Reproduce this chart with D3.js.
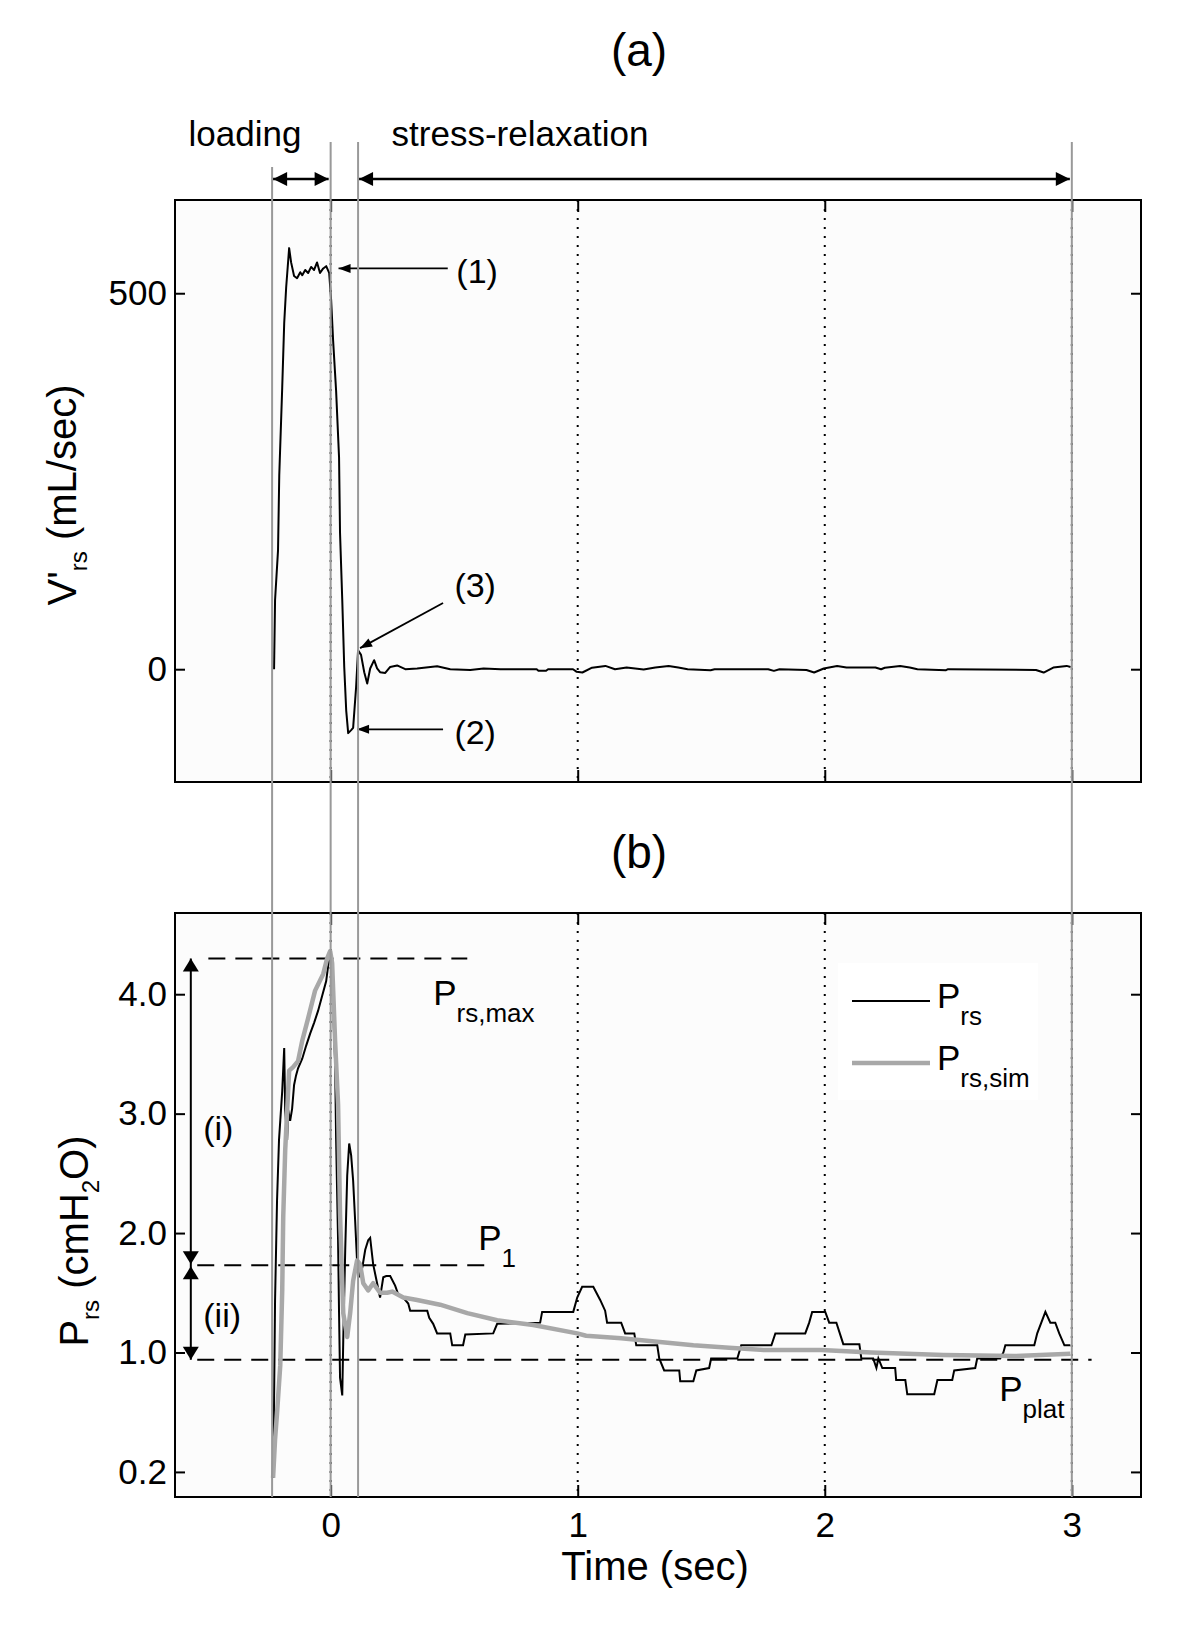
<!DOCTYPE html>
<html>
<head>
<meta charset="utf-8">
<script src="https://cdn.jsdelivr.net/npm/d3@7"></script>
<style>
  body { margin: 0; background: #fff; }
  text { font-family: "Liberation Sans", Arial, sans-serif; fill: #000; }
</style>
</head>
<body>
<div id="chart"></div>
<script>
// ---- data ----
var flowTime = [-0.229, -0.225, -0.213, -0.208, -0.196, -0.188, -0.180, -0.168, -0.160, -0.148,
  -0.136, -0.123, -0.115, -0.103, -0.091, -0.079, -0.067, -0.055, -0.043, -0.030,
  -0.018, -0.006, 0.002, 0.010, 0.022, 0.034, 0.038, 0.047, 0.055, 0.063,
  0.071, 0.083, 0.091, 0.103, 0.111, 0.123, 0.136, 0.148, 0.160, 0.176,
  0.188, 0.200, 0.221, 0.241, 0.269, 0.302, 0.350, 0.431, 0.484, 0.565,
  0.619, 0.688, 0.834, 0.841, 0.872, 0.880, 0.981, 0.996, 1.019, 1.058,
  1.112, 1.151, 1.198, 1.267, 1.314, 1.368, 1.407, 1.445, 1.538, 1.554,
  1.771, 1.794, 1.817, 1.926, 1.957, 1.996, 2.050, 2.088, 2.127, 2.205,
  2.228, 2.243, 2.305, 2.344, 2.375, 2.491, 2.499, 2.855, 2.886, 2.925,
  2.979, 2.995];
var flowValue = [0, 92, 158, 258, 375, 460, 508, 560, 541, 523,
  520, 528, 524, 531, 527, 535, 531, 541, 527, 533,
  536, 527, 491, 437, 371, 282, 181, 92, 3, -55,
  -85, -81, -78, -24, 25, 19, -4, -19, 1, 12,
  1, -4, -5, 3, 5, 0, 1, 4, 0, -1,
  1, 0, 0, -2, -2, 0, 0, -3.5, -4.4, 2,
  4.4, 0, 2.2, -0.5, 2.2, 4.4, 2.2, 0, -1.3, 0,
  0, -2.2, 0, -1, -4.4, 1, 4.4, 2.2, 2.2, 2.2,
  0, 2, 4.4, 2.2, 0, -1.3, 0, -1, -4.4, 2.2,
  4.4, 3];

var presTime = [-0.233, -0.229, -0.225, -0.217, -0.209, -0.196, -0.188, -0.184, -0.176, -0.172,
  -0.164, -0.156, -0.148, -0.140, -0.132, -0.115, -0.099, -0.083, -0.067, -0.051,
  -0.034, -0.018, -0.010, -0.002, 0.006, 0.010, 0.018, 0.022, 0.026, 0.030,
  0.034, 0.038, 0.047, 0.051, 0.059, 0.067, 0.075, 0.083, 0.091, 0.099,
  0.107, 0.115, 0.128, 0.140, 0.152, 0.160, 0.172, 0.188, 0.200, 0.213,
  0.225, 0.241, 0.261, 0.273, 0.294, 0.314, 0.322, 0.391, 0.399, 0.415,
  0.431, 0.484, 0.492, 0.536, 0.545, 0.658, 0.674, 0.848, 0.856, 0.982,
  0.998, 1.018, 1.063, 1.091, 1.111, 1.119, 1.176, 1.192, 1.229, 1.237,
  1.322, 1.330, 1.350, 1.411, 1.415, 1.468, 1.480, 1.532, 1.540, 1.646,
  1.662, 1.784, 1.800, 1.921, 1.937, 1.949, 2.002, 2.018, 2.047, 2.075,
  2.140, 2.148, 2.196, 2.209, 2.217, 2.233, 2.285, 2.289, 2.326, 2.334,
  2.443, 2.456, 2.516, 2.524, 2.609, 2.617, 2.710, 2.723, 2.731, 2.848,
  2.860, 2.893, 2.913, 2.933, 2.949, 2.970, 2.994];
var presValue = [-0.05, 0.60, 1.44, 2.27, 2.78, 3.19, 3.55, 3.03, 2.78, 3.03,
  2.94, 3.04, 3.24, 3.32, 3.38, 3.46, 3.57, 3.67, 3.76, 3.86,
  3.99, 4.11, 4.24, 4.35, 4.30, 3.86, 3.44, 2.80, 2.36, 1.94,
  1.33, 0.79, 0.64, 1.10, 1.86, 2.48, 2.75, 2.65, 2.44, 2.11,
  1.76, 1.63, 1.71, 1.86, 1.94, 1.96, 1.74, 1.58, 1.46, 1.63,
  1.64, 1.64, 1.56, 1.49, 1.46, 1.41, 1.35, 1.35, 1.29, 1.24,
  1.16, 1.16, 1.06, 1.06, 1.15, 1.16, 1.24, 1.25, 1.34, 1.34,
  1.46, 1.55, 1.55, 1.44, 1.35, 1.25, 1.25, 1.16, 1.16, 1.06,
  1.06, 0.95, 0.85, 0.85, 0.76, 0.76, 0.85, 0.87, 0.95, 0.95,
  1.06, 1.06, 1.16, 1.16, 1.25, 1.34, 1.34, 1.25, 1.25, 1.07,
  1.07, 0.95, 0.95, 0.87, 0.95, 0.87, 0.87, 0.77, 0.77, 0.65,
  0.65, 0.77, 0.77, 0.85, 0.87, 0.95, 0.95, 1.00, 1.06, 1.06,
  1.16, 1.34, 1.25, 1.25, 1.16, 1.06, 1.06];

var simTime = [-0.233, -0.225, -0.217, -0.204, -0.196, -0.192, -0.184, -0.176, -0.168, -0.152,
  -0.132, -0.115, -0.091, -0.063, -0.030, -0.014, -0.002, 0.006, 0.018, 0.030,
  0.038, 0.051, 0.067, 0.079, 0.091, 0.107, 0.119, 0.132, 0.152, 0.172,
  0.200, 0.229, 0.249, 0.294, 0.350, 0.443, 0.553, 0.674, 0.820, 0.998,
  1.034, 1.176, 1.322, 1.468, 1.613, 1.755, 1.986, 2.188, 2.334, 2.480,
  2.767, 2.994];
var simValue = [-0.05, 0.27, 0.49, 0.89, 1.52, 2.13, 2.69, 3.03, 3.36, 3.39,
  3.44, 3.61, 3.80, 4.03, 4.17, 4.30, 4.36, 4.26, 3.61, 3.08,
  2.16, 1.33, 1.13, 1.33, 1.60, 1.77, 1.74, 1.58, 1.52, 1.58,
  1.50, 1.50, 1.51, 1.46, 1.44, 1.40, 1.33, 1.27, 1.23, 1.16,
  1.14, 1.12, 1.09, 1.06, 1.04, 1.02, 1.02, 1.00, 0.99, 0.98,
  0.97, 0.99];

var xTicks = [0, 1, 2, 3];
var flowTicks = [0, 500];
var presTicks = [0, 1, 2, 3, 4];
var presTickLabels = ["0.2", "1.0", "2.0", "3.0", "4.0"];
var phaseTimes = [-0.237, 0, 0.111, 3.0];
var pMax = 4.30, p1 = 1.73, pPlat = 0.94;

// ---- layout ----
var svgWidth = 1200;
var svgHeight = 1635;
var left = 175, right = 1141;
var width = right - left;
var panelA = { top: 200, height: 582 };
var panelB = { top: 913, height: 584 };

var svg = d3.select("#chart")
  .append("svg")
  .attr("width", svgWidth)
  .attr("height", svgHeight);

var x = d3.scaleLinear().domain([-0.63, 3.28]).range([0, width]);
var yA = d3.scaleLinear().domain([-150, 624]).range([panelA.height, 0]);
var yB = d3.scaleLinear().domain([-0.21, 4.68]).range([panelB.height, 0]);

function head(g, px, py, angle, len, half) {
  // filled triangle pointing along angle (degrees) with tip at px,py
  g.append("path")
    .attr("d", `M0,0 L${-len},${-half} L${-len},${half} Z`)
    .attr("transform", `translate(${px},${py}) rotate(${angle})`)
    .attr("fill", "#000");
}

function subText(g, px, py, main, sub, size, subSize, subDy, anchor) {
  var t = g.append("text")
    .attr("x", px)
    .attr("y", py)
    .attr("font-size", size)
    .attr("text-anchor", anchor || "start");
  t.append("tspan").text(main);
  t.append("tspan").attr("font-size", subSize).attr("dy", subDy).text(sub);
  return t;
}

function panel(top, h, y, yTicks, yFormat, showX) {
  var g = svg.append("g").attr("transform", `translate(${left}, ${top})`);
  g.append("rect").attr("width", width).attr("height", h).attr("fill", "#fcfcfc");

  // dotted x grid
  g.selectAll(".grid")
    .data(xTicks)
    .enter()
    .append("line")
    .attr("x1", d => x(d)).attr("x2", d => x(d))
    .attr("y1", 0).attr("y2", h)
    .attr("stroke", "#000")
    .attr("stroke-width", 2)
    .attr("stroke-dasharray", "2,7");

  g.append("g")
    .call(d3.axisLeft(y).tickValues(yTicks).tickSize(-10).tickPadding(8).tickFormat(yFormat));
  g.append("g")
    .attr("transform", `translate(${width}, 0)`)
    .call(d3.axisRight(y).tickValues(yTicks).tickSize(-10).tickFormat(""));
  g.append("g")
    .attr("transform", `translate(0, ${h})`)
    .call(d3.axisBottom(x).tickValues(xTicks).tickSize(-12).tickPadding(15)
      .tickFormat(showX ? d3.format("d") : ""));
  g.append("g")
    .call(d3.axisTop(x).tickValues(xTicks).tickSize(-12).tickFormat(""));

  g.selectAll(".domain").remove();
  g.selectAll(".tick line").attr("stroke", "#000").attr("stroke-width", 2);
  g.selectAll(".tick text")
    .attr("font-size", 35)
    .attr("font-family", "Liberation Sans, Arial, sans-serif")
    .attr("fill", "#000");

  g.append("rect")
    .attr("width", width).attr("height", h)
    .attr("fill", "none").attr("stroke", "#000").attr("stroke-width", 2);
  return g;
}

// ---- panel (a) ----
var gA = panel(panelA.top, panelA.height, yA, flowTicks, d3.format("d"), false);

gA.append("path")
  .datum(d3.zip(flowTime, flowValue))
  .attr("fill", "none")
  .attr("stroke", "#000")
  .attr("stroke-width", 2)
  .attr("stroke-linejoin", "round")
  .attr("d", d3.line().x(d => x(d[0])).y(d => yA(d[1])));

var notes = [
  { label: "(1)", from: [0.474, 533], to: [0.032, 533], at: [0.593, 530] },
  { label: "(3)", from: [0.455, 88], to: [0.119, 28], at: [0.585, 112] },
  { label: "(2)", from: [0.455, -80], to: [0.107, -80], at: [0.585, -84] }
];
notes.forEach(function(n) {
  var x1 = x(n.from[0]), y1 = yA(n.from[1]), x2 = x(n.to[0]), y2 = yA(n.to[1]);
  gA.append("line")
    .attr("x1", x1).attr("y1", y1).attr("x2", x2).attr("y2", y2)
    .attr("stroke", "#000").attr("stroke-width", 1.8);
  head(gA, x2, y2, Math.atan2(y2 - y1, x2 - x1) * 180 / Math.PI, 12, 4.5);
  gA.append("text")
    .attr("x", x(n.at[0])).attr("y", yA(n.at[1]))
    .attr("dy", "0.35em")
    .attr("text-anchor", "middle")
    .attr("font-size", 34)
    .text(n.label);
});

// ---- panel (b) ----
var gB = panel(panelB.top, panelB.height, yB, presTicks, (d, i) => presTickLabels[i], true);

// legend background
gB.append("rect")
  .attr("x", 663).attr("y", 50).attr("width", 200).attr("height", 137)
  .attr("fill", "#fff");

[pMax, p1, pPlat].forEach(function(v, i) {
  var ends = [[-0.495, 0.553], [-0.54, 0.658], [-0.54, 3.08]][i];
  gB.append("line")
    .attr("x1", x(ends[0])).attr("x2", x(ends[1]))
    .attr("y1", yB(v)).attr("y2", yB(v))
    .attr("stroke", "#000").attr("stroke-width", 2)
    .attr("stroke-dasharray", "17,10");
});

gB.append("path")
  .datum(d3.zip(presTime, presValue))
  .attr("fill", "none")
  .attr("stroke", "#000")
  .attr("stroke-width", 2)
  .attr("d", d3.line().x(d => x(d[0])).y(d => yB(d[1])));

gB.append("path")
  .datum(d3.zip(simTime, simValue))
  .attr("fill", "none")
  .attr("stroke", "#a8a8a8")
  .attr("stroke-width", 4.5)
  .attr("stroke-linejoin", "round")
  .attr("d", d3.line().x(d => x(d[0])).y(d => yB(d[1])));

// (i) and (ii) arrows
var ax = x(-0.566);
gB.append("line").attr("x1", ax).attr("x2", ax).attr("y1", yB(pMax)).attr("y2", yB(pPlat))
  .attr("stroke", "#000").attr("stroke-width", 2);
head(gB, ax, yB(pMax), -90, 13, 8);
head(gB, ax, yB(p1) - 1, 90, 13, 8);
head(gB, ax, yB(p1) + 1, -90, 13, 8);
head(gB, ax, yB(pPlat), 90, 13, 8);

gB.append("text").attr("x", x(-0.455)).attr("y", yB(2.88)).attr("dy", "0.35em")
  .attr("text-anchor", "middle").attr("font-size", 34).text("(i)");
gB.append("text").attr("x", x(-0.439)).attr("y", yB(1.31)).attr("dy", "0.35em")
  .attr("text-anchor", "middle").attr("font-size", 34).text("(ii)");

subText(gB, x(0.415), yB(3.91), "P", "rs,max", 35, 26, 17);
subText(gB, x(0.597), yB(1.86), "P", "1", 35, 26, 17);
subText(gB, x(2.706), yB(0.59), "P", "plat", 35, 26, 17);

// legend
var legend = gB.append("g").attr("transform", "translate(677, 88)");
legend.append("line").attr("x1", 0).attr("x2", 78).attr("y1", 0).attr("y2", 0)
  .attr("stroke", "#000").attr("stroke-width", 2);
subText(legend, 85, 7, "P", "rs", 35, 26, 17);
legend.append("line").attr("x1", 0).attr("x2", 78).attr("y1", 62).attr("y2", 62)
  .attr("stroke", "#a8a8a8").attr("stroke-width", 4.5);
subText(legend, 85, 69, "P", "rs,sim", 35, 26, 17);

// ---- phase markers and labels ----
var phaseTop = [167, 142, 142, 142];
svg.append("g")
  .selectAll("line")
  .data(phaseTimes)
  .enter()
  .append("line")
  .attr("x1", d => left + x(d)).attr("x2", d => left + x(d))
  .attr("y1", (d, i) => phaseTop[i])
  .attr("y2", panelB.top + panelB.height)
  .attr("stroke", "#999")
  .attr("stroke-width", 2);

var arrowY = 179;
var l0 = left + x(phaseTimes[0]) + 1, l1 = left + x(phaseTimes[1]) - 2;
var s0 = left + x(phaseTimes[2]) + 1, s1 = left + x(phaseTimes[3]) - 2;
svg.append("line").attr("x1", l0).attr("x2", l1).attr("y1", arrowY).attr("y2", arrowY)
  .attr("stroke", "#000").attr("stroke-width", 2.5);
svg.append("line").attr("x1", s0).attr("x2", s1).attr("y1", arrowY).attr("y2", arrowY)
  .attr("stroke", "#000").attr("stroke-width", 2.5);
head(svg, l0, arrowY, 180, 14, 7);
head(svg, l1, arrowY, 0, 14, 7);
head(svg, s0, arrowY, 180, 14, 7);
head(svg, s1, arrowY, 0, 14, 7);

svg.append("text").attr("x", 245).attr("y", 146).attr("text-anchor", "middle")
  .attr("font-size", 35).text("loading");
svg.append("text").attr("x", 520).attr("y", 146).attr("text-anchor", "middle")
  .attr("font-size", 35).text("stress-relaxation");

// titles
svg.append("text").attr("x", 639).attr("y", 66).attr("text-anchor", "middle")
  .attr("font-size", 46).text("(a)");
svg.append("text").attr("x", 639).attr("y", 868).attr("text-anchor", "middle")
  .attr("font-size", 46).text("(b)");

// axis labels
var yLabA = svg.append("text")
  .attr("transform", "translate(76, 495) rotate(-90)")
  .attr("text-anchor", "middle")
  .attr("font-size", 40);
yLabA.append("tspan").text("V'");
yLabA.append("tspan").attr("font-size", 24).attr("dy", 11).text("rs");
yLabA.append("tspan").attr("dy", -11).text(" (mL/sec)");

var yLabB = svg.append("text")
  .attr("transform", "translate(88, 1241) rotate(-90)")
  .attr("text-anchor", "middle")
  .attr("font-size", 40);
yLabB.append("tspan").text("P");
yLabB.append("tspan").attr("font-size", 24).attr("dy", 11).text("rs");
yLabB.append("tspan").attr("dy", -11).text(" (cmH");
yLabB.append("tspan").attr("font-size", 24).attr("dy", 11).text("2");
yLabB.append("tspan").attr("dy", -11).text("O)");

svg.append("text").attr("x", 655).attr("y", 1580).attr("text-anchor", "middle")
  .attr("font-size", 40).text("Time (sec)");
</script>
</body>
</html>
